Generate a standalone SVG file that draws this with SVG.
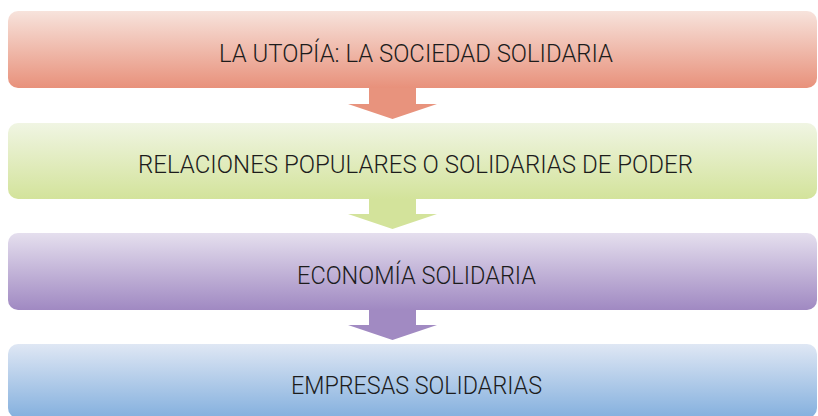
<svg xmlns="http://www.w3.org/2000/svg" width="818" height="416" viewBox="0 0 818 416">
<defs>
<linearGradient id="gRed" x1="0" y1="0" x2="0" y2="1"><stop offset="0" stop-color="#f7e3dc"/><stop offset="1" stop-color="#e8917b"/></linearGradient>
<linearGradient id="gGreen" x1="0" y1="0" x2="0" y2="1"><stop offset="0" stop-color="#f0f5e3"/><stop offset="1" stop-color="#d3e39b"/></linearGradient>
<linearGradient id="gPurple" x1="0" y1="0" x2="0" y2="1"><stop offset="0" stop-color="#e5dfee"/><stop offset="1" stop-color="#a089c2"/></linearGradient>
<linearGradient id="gBlue" x1="0" y1="0" x2="0" y2="1"><stop offset="0" stop-color="#dfe7f4"/><stop offset="1" stop-color="#84b0de"/></linearGradient>
</defs>
<style>
.lbl{font-family:"Roboto","Liberation Sans",sans-serif;font-weight:300;font-size:26.5px;fill:#1c1c1c;}
</style>
<rect width="818" height="416" fill="#ffffff"/>
<g id="connectors">
<polygon points="369,86 416,86 416,104 437,104 392.5,119 348,104 369,104" fill="#e8937d"/>
<polygon points="369,197 416,197 416,214 437,214 392.5,229 348,214 369,214" fill="#d3e39b"/>
<polygon points="369,308 416,308 416,325 437,325 392.5,340 348,325 369,325" fill="#a18ac2"/>
</g>
<g id="node1">
<rect x="8" y="11" width="809" height="77" rx="10" fill="url(#gRed)"/>
<text class="lbl" x="219" y="62" textLength="394" lengthAdjust="spacingAndGlyphs">LA UTOPÍA: LA SOCIEDAD SOLIDARIA</text>
</g>
<g id="node2">
<rect x="8" y="123" width="809" height="76" rx="10" fill="url(#gGreen)"/>
<text class="lbl" x="138" y="173" textLength="555" lengthAdjust="spacingAndGlyphs">RELACIONES POPULARES O SOLIDARIAS DE PODER</text>
</g>
<g id="node3">
<rect x="8" y="233" width="809" height="77" rx="10" fill="url(#gPurple)"/>
<text class="lbl" x="297" y="284" textLength="239" lengthAdjust="spacingAndGlyphs">ECONOMÍA SOLIDARIA</text>
</g>
<g id="node4">
<rect x="8" y="344" width="809" height="74" rx="10" fill="url(#gBlue)"/>
<text class="lbl" x="291" y="394" textLength="251" lengthAdjust="spacingAndGlyphs">EMPRESAS SOLIDARIAS</text>
</g>
</svg>
